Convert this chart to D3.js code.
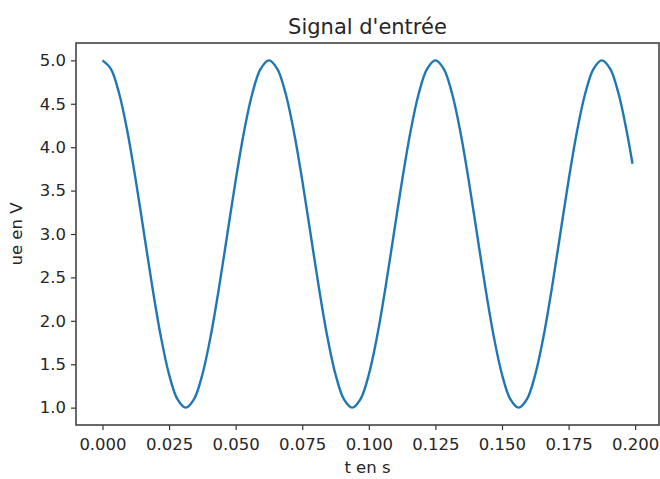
<!DOCTYPE html>
<html>
<head>
<meta charset="utf-8">
<script src="https://cdn.jsdelivr.net/npm/d3@7/dist/d3.min.js"></script>
<style>
  body { margin: 0; background: #fff; }
  text { font-family: "DejaVu Sans", sans-serif; fill: #262626; }
</style>
</head>
<body>
<div class="visualization"></div>
<script>
//data (t in s, ue in V)
const tValues = [
  0, 0.003125, 0.00625, 0.009375, 0.0125, 0.015625, 0.01875, 0.021875, 0.025, 0.028125,
  0.03125, 0.034375, 0.0375, 0.040625, 0.04375, 0.046875, 0.05, 0.053125, 0.05625, 0.059375,
  0.0625, 0.065625, 0.06875, 0.071875, 0.075, 0.078125, 0.08125, 0.084375, 0.0875, 0.090625,
  0.09375, 0.096875, 0.1, 0.103125, 0.10625, 0.109375, 0.1125, 0.115625, 0.11875, 0.121875,
  0.125, 0.128125, 0.13125, 0.134375, 0.1375, 0.140625, 0.14375, 0.146875, 0.15, 0.153125,
  0.15625, 0.159375, 0.1625, 0.165625, 0.16875, 0.171875, 0.175, 0.178125, 0.18125, 0.184375,
  0.1875, 0.190625, 0.19375, 0.196875, 0.199
];
const ueValues = [
  5.000, 4.902, 4.618, 4.176, 3.618, 3.000, 2.382, 1.824, 1.382, 1.098,
  1.000, 1.098, 1.382, 1.824, 2.382, 3.000, 3.618, 4.176, 4.618, 4.902,
  5.000, 4.902, 4.618, 4.176, 3.618, 3.000, 2.382, 1.824, 1.382, 1.098,
  1.000, 1.098, 1.382, 1.824, 2.382, 3.000, 3.618, 4.176, 4.618, 4.902,
  5.000, 4.902, 4.618, 4.176, 3.618, 3.000, 2.382, 1.824, 1.382, 1.098,
  1.000, 1.098, 1.382, 1.824, 2.382, 3.000, 3.618, 4.176, 4.618, 4.902,
  5.000, 4.902, 4.618, 4.176, 3.810
];
const xTicks = [0, 0.025, 0.05, 0.075, 0.1, 0.125, 0.15, 0.175, 0.2];
const yTicks = [1.0, 1.5, 2.0, 2.5, 3.0, 3.5, 4.0, 4.5, 5.0];

const title = "Signal d'entrée";
const xLabel = "t en s";
const yLabel = "ue en V";

//layout
const width = 660;
const height = 479;
const plot = {left: 76, top: 43, right: 659, bottom: 425};

const svg = d3.select(".visualization")
    .append("svg")
    .attr("width", width)
    .attr("height", height);

//matplotlib-like 5% margins around the data
const xMin = d3.min(tValues), xMax = d3.max(tValues);
const yMin = d3.min(ueValues), yMax = d3.max(ueValues);
const xPad = (xMax - xMin) * 0.05, yPad = (yMax - yMin) * 0.05;

const x = d3.scaleLinear()
    .domain([xMin - xPad, xMax + xPad])
    .range([plot.left, plot.right]);
const y = d3.scaleLinear()
    .domain([yMin - yPad, yMax + yPad])
    .range([plot.bottom, plot.top]);

const points = tValues.map((t, i) => ({t: t, ue: ueValues[i]}));

const line = d3.line()
    .x(d => x(d.t))
    .y(d => y(d.ue))
    .curve(d3.curveCatmullRom.alpha(0.5));

svg.append("path")
    .datum(points)
    .attr("fill", "none")
    .attr("stroke", "#1f77b4")
    .attr("stroke-width", 2.4)
    .attr("stroke-linejoin", "round")
    .attr("stroke-linecap", "butt")
    .attr("d", line);

//axes
const xAxis = svg.append("g")
    .attr("transform", `translate(0,${plot.bottom})`)
    .call(d3.axisBottom(x).tickValues(xTicks).tickFormat(d3.format(".3f")).tickSize(5).tickSizeOuter(0).tickPadding(8));
const yAxis = svg.append("g")
    .attr("transform", `translate(${plot.left},0)`)
    .call(d3.axisLeft(y).tickValues(yTicks).tickFormat(d3.format(".1f")).tickSize(5).tickSizeOuter(0).tickPadding(5));

[xAxis, yAxis].forEach(a => {
  a.select(".domain").remove();
  a.selectAll(".tick line").attr("stroke", "#333").attr("stroke-width", 1.2);
  a.selectAll(".tick text")
    .style("font-family", "'DejaVu Sans', sans-serif")
    .style("font-size", "16.5px")
    .attr("fill", "#262626");
});

//frame
svg.append("rect")
    .attr("x", plot.left)
    .attr("y", plot.top)
    .attr("width", plot.right - plot.left)
    .attr("height", plot.bottom - plot.top)
    .attr("fill", "none")
    .attr("stroke", "#444")
    .attr("stroke-width", 1.6);

//title and labels
svg.append("text")
    .attr("x", (plot.left + plot.right) / 2)
    .attr("y", plot.top - 9)
    .attr("text-anchor", "middle")
    .style("font-size", "21px")
    .text(title);

svg.append("text")
    .attr("x", (plot.left + plot.right) / 2)
    .attr("y", 473)
    .attr("text-anchor", "middle")
    .style("font-size", "16.5px")
    .text(xLabel);

svg.append("text")
    .attr("transform", `translate(22,${(plot.top + plot.bottom) / 2}) rotate(-90)`)
    .attr("text-anchor", "middle")
    .style("font-size", "16.5px")
    .text(yLabel);
</script>
</body>
</html>
